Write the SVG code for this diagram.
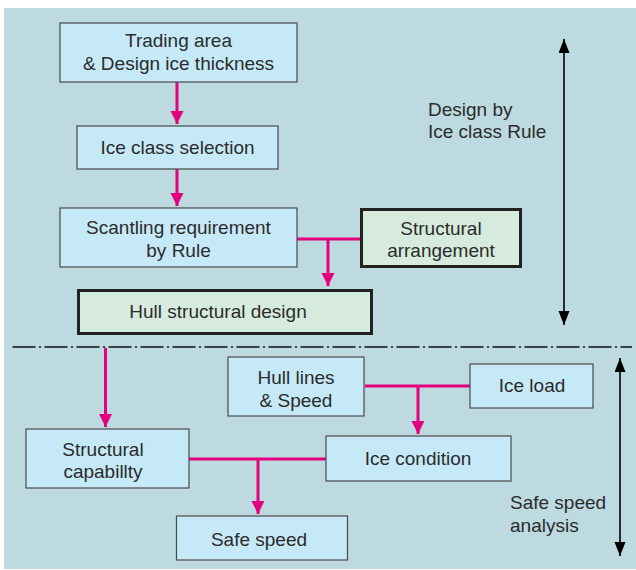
<svg xmlns="http://www.w3.org/2000/svg" width="636" height="570" viewBox="0 0 636 570">
  <defs>
    <style>
      .bg { fill: #bcdae0; }
      .box { fill: #c6e9f8; stroke: #4a4a4a; stroke-width: 1.2; }
      .key { fill: #d6ebdd; stroke: #222; stroke-width: 3; }
      .lbl { font-family: "Liberation Sans", Arial, sans-serif; font-size: 19px; fill: #2b2b2b; text-anchor: middle; }
      .side { font-family: "Liberation Sans", Arial, sans-serif; font-size: 19px; fill: #2b2b2b; }
      .flow { fill: none; stroke: #e5007d; stroke-width: 3; }
      .span { fill: none; stroke: #000; stroke-width: 1.6; }
      .divide { fill: none; stroke: #111; stroke-width: 1.6; stroke-dasharray: 23 3.5 2 3.5; }
    </style>
    <marker id="pink" markerUnits="userSpaceOnUse" markerWidth="14" markerHeight="14" refX="13" refY="6.5" orient="auto">
      <path d="M0,0 L13,6.5 L0,13 z" fill="#e5007d"/>
    </marker>
    <marker id="blk" markerUnits="userSpaceOnUse" markerWidth="15" markerHeight="12" refX="14" refY="5.5" orient="auto">
      <path d="M0,0 L14,5.5 L0,11 z" fill="#000"/>
    </marker>
  </defs>

  <rect class="bg" x="4" y="8" width="632" height="561"/>

  <!-- section divider -->
  <line class="divide" x1="12.5" y1="347" x2="632" y2="347"/>

  <!-- connectors -->
  <g id="connectors">
    <line class="flow" x1="177" y1="82" x2="177" y2="124" marker-end="url(#pink)"/>
    <line class="flow" x1="177" y1="169" x2="177" y2="206" marker-end="url(#pink)"/>
    <line class="flow" x1="297" y1="239" x2="361" y2="239"/>
    <line class="flow" x1="328" y1="239" x2="328" y2="286" marker-end="url(#pink)"/>
    <line class="flow" x1="105.5" y1="348" x2="105.5" y2="427" marker-end="url(#pink)"/>
    <line class="flow" x1="365" y1="386" x2="470" y2="386"/>
    <line class="flow" x1="418" y1="386" x2="418" y2="434" marker-end="url(#pink)"/>
    <line class="flow" x1="189" y1="459" x2="326" y2="459"/>
    <line class="flow" x1="258" y1="459" x2="258" y2="514" marker-end="url(#pink)"/>

    <!-- phase span arrows -->
    <line class="span" x1="564" y1="182" x2="564" y2="39" marker-end="url(#blk)"/>
    <line class="span" x1="564" y1="182" x2="564" y2="325" marker-end="url(#blk)"/>
    <line class="span" x1="620" y1="457" x2="620" y2="358" marker-end="url(#blk)"/>
    <line class="span" x1="620" y1="457" x2="620" y2="556" marker-end="url(#blk)"/>
  </g>

  <g id="trading-area">
    <rect class="box" x="60" y="23" width="237" height="59"/>
    <text class="lbl" x="178.5" y="47">Trading area</text>
    <text class="lbl" x="178.5" y="70">&amp; Design ice thickness</text>
  </g>

  <g id="ice-class-selection">
    <rect class="box" x="77" y="126" width="201" height="43"/>
    <text class="lbl" x="177.5" y="154">Ice class selection</text>
  </g>

  <g id="scantling-requirement">
    <rect class="box" x="60" y="208" width="237" height="59"/>
    <text class="lbl" x="178.5" y="234">Scantling requirement</text>
    <text class="lbl" x="178.5" y="257">by Rule</text>
  </g>

  <g id="structural-arrangement">
    <rect class="key" x="361.5" y="209.5" width="159" height="57"/>
    <text class="lbl" x="441" y="235">Structural</text>
    <text class="lbl" x="441" y="257">arrangement</text>
  </g>

  <g id="hull-structural-design">
    <rect class="key" x="78.5" y="290.5" width="293" height="43"/>
    <text class="lbl" x="218" y="318">Hull structural design</text>
  </g>

  <g id="hull-lines-speed">
    <rect class="box" x="228" y="357" width="136" height="59"/>
    <text class="lbl" x="296" y="384">Hull lines</text>
    <text class="lbl" x="296" y="407">&amp; Speed</text>
  </g>

  <g id="ice-load">
    <rect class="box" x="470" y="364" width="123" height="44"/>
    <text class="lbl" x="532" y="392">Ice load</text>
  </g>

  <g id="structural-capability">
    <rect class="box" x="26" y="429" width="163" height="59"/>
    <text class="lbl" x="103" y="456">Structural</text>
    <text class="lbl" x="103" y="478">capabillty</text>
  </g>

  <g id="ice-condition">
    <rect class="box" x="326" y="436" width="185" height="45"/>
    <text class="lbl" x="418" y="465">Ice condition</text>
  </g>

  <g id="safe-speed">
    <rect class="box" x="176.5" y="516" width="171" height="44"/>
    <text class="lbl" x="259" y="546">Safe speed</text>
  </g>

  <!-- phase captions -->
  <text class="side" x="428" y="116">Design by</text>
  <text class="side" x="428" y="138">Ice class Rule</text>
  <text class="side" x="510" y="509">Safe speed</text>
  <text class="side" x="510" y="532">analysis</text>
</svg>
